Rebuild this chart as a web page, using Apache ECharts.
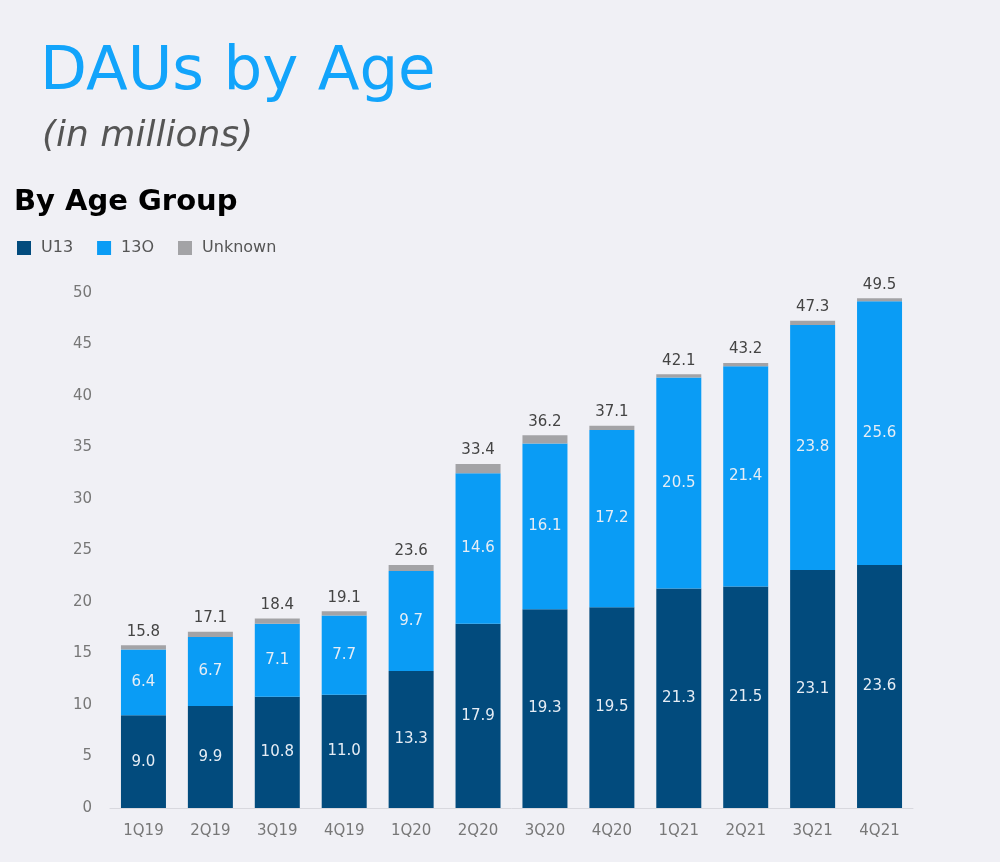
<!DOCTYPE html>
<html><head><meta charset="utf-8">
<script src="https://cdn.jsdelivr.net/npm/echarts@6/dist/echarts.min.js"></script>
<style>html,body{margin:0;padding:0;background:#f0f0f5;}#c{width:1000px;height:862px;}</style>
</head><body><div id="c"></div>
<script>
const categories = ['1Q19','2Q19','3Q19','4Q19','1Q20','2Q20','3Q20','4Q20','1Q21','2Q21','3Q21','4Q21'];
const u13 = [9.0, 9.9, 10.8, 11.0, 13.3, 17.9, 19.3, 19.5, 21.3, 21.5, 23.1, 23.6];
const o13 = [6.4, 6.7, 7.1, 7.7, 9.7, 14.6, 16.1, 17.2, 20.5, 21.4, 23.8, 25.6];
const unknown = [0.4, 0.5, 0.5, 0.4, 0.6, 0.9, 0.8, 0.4, 0.3, 0.3, 0.4, 0.3];
const totals = [15.8, 17.1, 18.4, 19.1, 23.6, 33.4, 36.2, 37.1, 42.1, 43.2, 47.3, 49.5];
const yTicks = [0, 5, 10, 15, 20, 25, 30, 35, 40, 45, 50];

const font = "'DejaVu Sans', 'Noto Sans', sans-serif";
const chart = echarts.init(document.getElementById('c'));
const inLabel = {show: true, position: 'inside', color: '#e6edf5', fontSize: 15, fontFamily: font,
  formatter: p => p.value.toFixed(1)};
chart.setOption({
  backgroundColor: '#f0f0f5',
  animation: false,
  title: [
    {text: 'DAUs by Age', left: 40, top: 43, padding: 0, textStyle: {color: '#12a4fb', fontSize: 61, fontWeight: 'normal', fontFamily: font}},
    {text: '(in millions)', left: 42, top: 119, padding: 0, textStyle: {color: '#555', fontSize: 36, fontStyle: 'italic', fontWeight: 'normal', fontFamily: font}},
    {text: 'By Age Group', left: 14, top: 188, padding: 0, textStyle: {color: '#000', fontSize: 29, fontWeight: 'bold', fontFamily: font}}
  ],
  legend: {
    left: 17, top: 240, padding: 0, itemWidth: 14, itemHeight: 14, itemGap: 24, icon: 'rect',
    textStyle: {color: '#555', fontSize: 16, fontFamily: font, padding: [0, 0, 0, 5]},
    data: ['U13', '13O', 'Unknown']
  },
  grid: {left: 110, right: 87, top: 293, bottom: 54},
  xAxis: {
    type: 'category', data: categories,
    axisLine: {lineStyle: {color: '#d8d8de'}}, axisTick: {show: false},
    axisLabel: {color: '#777', fontSize: 15, fontFamily: font, margin: 16}
  },
  yAxis: {
    type: 'value', min: 0, max: 50, interval: 5,
    splitLine: {show: false}, axisLine: {show: false}, axisTick: {show: false},
    axisLabel: {color: '#777', fontSize: 15, fontFamily: font, margin: 18,
      formatter: v => yTicks.includes(v) ? String(v) : ''}
  },
  series: [
    {name: 'U13', type: 'bar', stack: 't', data: u13, barWidth: 45, itemStyle: {color: '#024b7d'}, label: inLabel},
    {name: '13O', type: 'bar', stack: 't', data: o13, itemStyle: {color: '#0a9cf5'}, label: inLabel},
    {name: 'Unknown', type: 'bar', stack: 't', data: unknown, itemStyle: {color: '#a3a3a6'},
      label: {show: true, position: 'top', color: '#444', fontSize: 15, fontFamily: font, distance: 6,
        formatter: p => totals[p.dataIndex].toFixed(1)}}
  ]
});
</script></body></html>
